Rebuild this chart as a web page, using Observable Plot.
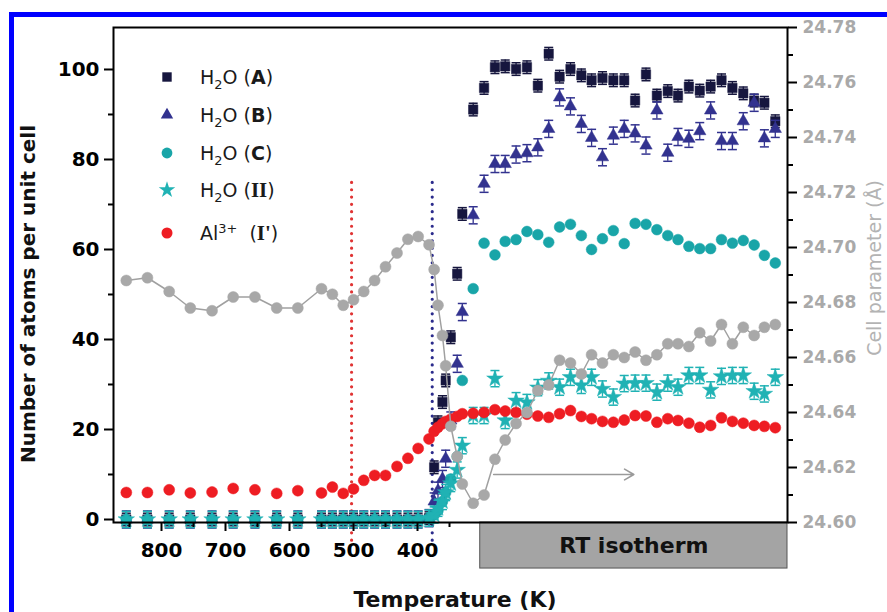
<!DOCTYPE html>
<html><head><meta charset="utf-8">
<script src="https://cdn.jsdelivr.net/npm/d3@7"></script>
<script src="https://cdn.jsdelivr.net/npm/@observablehq/plot@0.6"></script>
<style>
html,body{margin:0;padding:0;background:#fff;width:887px;height:612px;overflow:hidden;}
#wrap{position:relative;width:887px;height:612px;overflow:hidden;}
#border{position:absolute;left:9px;top:12px;width:920px;height:700px;border:5px solid #0000ff;box-sizing:border-box;}
#chart{position:absolute;left:0;top:0;}
.title{position:absolute;font-family:"DejaVu Sans",sans-serif;font-weight:bold;white-space:nowrap;}
.leg{position:absolute;left:156px;height:30px;display:flex;align-items:center;font-family:"DejaVu Sans",sans-serif;font-size:19px;color:#1a1a1a;white-space:nowrap;}
.leg svg{width:22px;height:22px;margin-right:22px;overflow:visible;}
.leg sub{font-size:0.68em;vertical-align:-0.35em;line-height:0;}
.leg sup{font-size:0.68em;vertical-align:0.55em;line-height:0;}
.leg .ser{font-family:"Liberation Serif",serif;font-weight:bold;font-size:21px;}
</style></head><body><div id="wrap"><div id="border"></div><div id="chart"></div></div>
<script>
// Position along the temperature axis (K). Points after the 350 K tick belong to the
// RT isotherm and continue along the axis in scan order.
const axisPos = [855, 822, 788, 755, 721, 688, 654, 620, 587, 550, 533, 516, 500, 484, 467, 450, 432, 415, 399, 382,
  374, 368, 361, 356, 348, 338,
  330, 313, 296, 279, 263, 246, 229, 212, 195, 178, 161, 144, 128, 111, 94, 77, 60, 43, 26, 9,
  -7, -24, -41, -58, -75, -92, -109, -126, -142, -159];

const h2oA = [0, 0, 0, 0, 0, 0, 0, 0, 0, 0, 0, 0, 0, 0, 0, 0, 0, 0, 0, 0.3,
  11.6, 21.6, 26.1, 30.9, 40.5, 54.6,
  67.9, 91.1, 95.9, 100.5, 100.7, 100.1, 100.5, 96.4, 103.5, 98.4, 100.1, 98.7, 97.6, 98.1, 97.6, 97.6, 93.1, 98.9, 94.2, 95.2,
  94.2, 96.2, 95.3, 96.2, 97.6, 95.9, 94.7, 93.1, 92.6, 88.5];

const h2oB = [0, 0, 0, 0, 0, 0, 0, 0, 0, 0, 0, 0, 0, 0, 0, 0, 0, 0, 0, 0.3,
  4.0, 6.4, 9.0, 13.5, 22.0, 34.6,
  46.1, 67.6, 74.6, 79.0, 79.0, 81.1, 81.4, 82.7, 86.8, 93.8, 91.8, 87.9, 84.8, 80.5, 85.3, 86.8, 85.8, 83.1, 90.9, 81.5,
  85.0, 84.6, 86.3, 90.9, 84.1, 84.1, 88.5, 92.6, 84.7, 86.8];

const h2oC = [0, 0, 0, 0, 0, 0, 0, 0, 0, 0, 0, 0, 0, 0, 0, 0, 0, 0, 0, 0.3,
  1.0, 2.0, 4.0, 6.0, 9.0, 14.0,
  30.9, 51.3, 61.4, 58.8, 61.8, 62.2, 64.0, 63.3, 61.6, 65.0, 65.6, 63.1, 60.0, 62.4, 64.2, 61.3, 65.8, 65.6, 64.4, 63.1,
  62.2, 60.7, 60.2, 60.2, 62.2, 61.4, 62.0, 61.0, 58.7, 57.0];

const h2oII = [0, 0, 0, 0, 0, 0, 0, 0, 0, 0, 0, 0, 0, 0, 0, 0, 0, 0, 0, 0.3,
  1.0, 2.5, 4.0, 6.0, 8.0, 11.0,
  16.4, 23.1, 23.1, 31.3, 22.0, 26.4, 26.0, 29.3, 30.8, 29.4, 31.6, 29.8, 31.6, 29.0, 27.2, 30.2, 30.3, 30.3, 28.3, 30.3,
  29.4, 32.0, 32.0, 28.8, 31.8, 32.0, 32.0, 28.5, 27.9, 31.6];

const alI = [6.0, 6.0, 6.6, 5.9, 6.1, 6.9, 6.6, 5.8, 6.4, 5.9, 7.2, 5.8, 6.8, 8.7, 9.8, 9.8, 11.8, 13.6, 15.8, 17.9,
  19.6, 20.5, 21.3, 21.8, 22.3, 22.9,
  23.5, 23.6, 23.8, 24.4, 24.1, 23.8, 23.4, 23.0, 22.7, 23.5, 24.2, 22.9, 22.4, 21.8, 21.6, 22.1, 23.1, 23.0, 21.6, 22.4,
  22.0, 21.4, 20.5, 20.9, 22.6, 21.8, 21.4, 20.9, 20.7, 20.4];

// cell parameter (Å), right axis
const cellParam = [24.688, 24.689, 24.684, 24.678, 24.677, 24.682, 24.682, 24.678, 24.678, 24.685, 24.683, 24.679, 24.681, 24.684, 24.688, 24.693, 24.698, 24.703, 24.704, 24.701,
  24.692, 24.679, 24.668, 24.657, 24.635, 24.624,
  24.614, 24.607, 24.610, 24.623, 24.630, 24.636, 24.640, 24.648, 24.650, 24.659, 24.658, 24.654, 24.661, 24.658, 24.661, 24.660, 24.662, 24.659, 24.661, 24.665,
  24.665, 24.664, 24.669, 24.666, 24.672, 24.665, 24.671, 24.668, 24.671, 24.672];

const errA = 1.4, errB = 1.9, errII = 1.8;

const tempTicks = [800, 700, 600, 500, 400];
const tempMinor = [850, 750, 650, 550, 450, 350];
const leftTicks = [0, 20, 40, 60, 80, 100];
const leftMinor = [10, 30, 50, 70, 90];
const rightTicks = [24.60, 24.62, 24.64, 24.66, 24.68, 24.70, 24.72, 24.74, 24.76, 24.78];
const rightMinor = [24.61, 24.63, 24.65, 24.67, 24.69, 24.71, 24.73, 24.75, 24.77];

const legendLabels = ['H<sub>2</sub>O (<b>A</b>)', 'H<sub>2</sub>O (<b>B</b>)', 'H<sub>2</sub>O (<b>C</b>)',
  'H<sub>2</sub>O (<span class="ser">II</span>)', 'Al<sup>3+</sup>&nbsp;&nbsp;(<span class="ser">I\'</span>)'];

// annotations (axis units)
const markLines = [{x: 503, top: 74.9, color: "#e03434"}, {x: 377, top: 75.8, color: "#2b2b8c"}];
const isotherm = {from: 302, label: "RT isotherm"};
const arrowNote = {x1: 281, x2: 62, y: 10};

// ---- scales
const xDomain = [875, -178.1];
const yDomain = [-0.667, 109.33];
const cellDomain = [24.60, 24.78];
const toLeft = v => yDomain[0] + (v - cellDomain[0]) / (cellDomain[1] - cellDomain[0]) * (yDomain[1] - yDomain[0]);
const fromLeft = y => cellDomain[0] + (y - yDomain[0]) / (yDomain[1] - yDomain[0]) * (cellDomain[1] - cellDomain[0]);

const colA = "#16163e", colB = "#32328f", colC = "#19a5a8", colII = "#20b2b4", colAl = "#ee1d23", colCell = "#a8a8a8";

const rows = axisPos.map((x, i) => ({x, a: h2oA[i], b: h2oB[i], c: h2oC[i], ii: h2oII[i], al: alI[i], cell: toLeft(cellParam[i])}));

const cap = {draw(ctx, size) { const w = Math.sqrt(size / Math.PI); ctx.moveTo(-w, 0); ctx.lineTo(w, 0); }};

function errMarks(key, err, color, capR) {
  return [
    Plot.ruleX(rows, {x: "x", y1: d => d[key] - err, y2: d => d[key] + err, stroke: color, strokeWidth: 1.3}),
    Plot.dot(rows, {x: "x", y: d => d[key] + err, symbol: cap, r: capR, fill: "none", stroke: color, strokeWidth: 1.5}),
    Plot.dot(rows, {x: "x", y: d => d[key] - err, symbol: cap, r: capR, fill: "none", stroke: color, strokeWidth: 1.5})
  ];
}

const bottomY = yDomain[0];
const boxBottom = -10.9;

const chart = Plot.plot({
  width: 887, height: 612,
  marginLeft: 113, marginRight: 100, marginTop: 27, marginBottom: 90,
  style: {fontFamily: "DejaVu Sans, sans-serif", background: "transparent", overflow: "visible"},
  x: {type: "linear", domain: xDomain},
  y: {type: "linear", domain: yDomain},
  marks: [
    Plot.rect([isotherm], {x1: d => d.from, x2: xDomain[1], y1: bottomY, y2: boxBottom, fill: "#a4a4a4", stroke: "#555", strokeWidth: 1}),
    Plot.text([isotherm], {x: d => (d.from + xDomain[1]) / 2, y: (bottomY + boxBottom) / 2, text: "label", fontSize: 22, fontWeight: "bold", fill: "#111"}),
    Plot.ruleX(markLines, {x: "x", y1: -4.7, y2: "top", stroke: "color", strokeWidth: 3.2, strokeDasharray: "0 7.3", strokeLinecap: "round"}),
    Plot.arrow([arrowNote], {x1: "x1", x2: "x2", y1: "y", y2: "y", stroke: "#9a9a9a", strokeWidth: 1.6, headLength: 10}),
    ...errMarks("a", errA, colA, 4.5),
    Plot.dot(rows, {x: "x", y: "a", symbol: "square", r: 5.3, fill: colA, stroke: colA, strokeWidth: 0.5}),
    ...errMarks("b", errB, colB, 4.5),
    Plot.dot(rows, {x: "x", y: "b", symbol: "triangle", r: 4.6, fill: colB, stroke: colB, strokeWidth: 0.5}),
    Plot.dot(rows, {x: "x", y: "c", symbol: "circle", r: 5.4, fill: colC, stroke: colC, strokeWidth: 0.5}),
    ...errMarks("ii", errII, colII, 4.5),
    Plot.dot(rows, {x: "x", y: "ii", symbol: "star", r: 5.2, fill: colII, stroke: colII, strokeWidth: 0.5}),
    Plot.dot(rows, {x: "x", y: "al", symbol: "circle", r: 5.5, fill: colAl, stroke: colAl, strokeWidth: 0.5}),
    Plot.line(rows, {x: "x", y: "cell", stroke: "#a0a0a0", strokeWidth: 1.5}),
    Plot.dot(rows, {x: "x", y: "cell", symbol: "circle", r: 5.5, fill: colCell, stroke: colCell, strokeWidth: 0.5}),
    Plot.axisX(tempTicks, {anchor: "bottom", tickSize: 9, strokeWidth: 2, tickPadding: 11, fontSize: 20, fontWeight: "bold", fill: "black", stroke: "black", label: null, tickFormat: d => String(d)}),
    Plot.axisX(tempMinor, {anchor: "bottom", tickSize: 5, strokeWidth: 2, stroke: "black", label: null, tickFormat: () => ""}),
    Plot.axisY(leftTicks, {anchor: "left", tickSize: 9, strokeWidth: 2, tickPadding: 5, fontSize: 20, fontWeight: "bold", fill: "black", stroke: "black", label: null, tickFormat: d => String(d)}),
    Plot.axisY(leftMinor, {anchor: "left", tickSize: 5, strokeWidth: 2, stroke: "black", label: null, tickFormat: () => ""}),
    Plot.axisY(rightTicks.map(toLeft), {anchor: "right", tickSize: 9, strokeWidth: 2, tickPadding: 6, fontSize: 17, fontWeight: "bold", fill: "#a9a9a9", stroke: "black", label: null, tickFormat: d => fromLeft(d).toFixed(2)}),
    Plot.axisY(rightMinor.map(toLeft), {anchor: "right", tickSize: 5, strokeWidth: 2, stroke: "black", label: null, tickFormat: () => ""}),
    Plot.frame({stroke: "black", strokeWidth: 2})
  ]
});
document.getElementById("chart").appendChild(chart);

// axis titles
const wrap = document.getElementById("wrap");
function addTitle(text, css) {
  const d = document.createElement("div");
  d.className = "title";
  d.textContent = text;
  Object.assign(d.style, css);
  wrap.appendChild(d);
}
addTitle("Temperature (K)", {left: "455px", top: "599px", fontSize: "22px", color: "#111", transform: "translate(-50%,-50%)"});
addTitle("Number of atoms per unit cell", {left: "28px", top: "294px", fontSize: "20px", color: "#111", transform: "translate(-50%,-50%) rotate(-90deg)"});
addTitle("Cell parameter (Å)", {left: "874px", top: "268px", fontSize: "19px", fontWeight: "normal", color: "#b3b3b3", transform: "translate(-50%,-50%) rotate(-90deg)"});

// legend
const legSymbols = [[d3.symbolSquare, 5.3, colA], [d3.symbolTriangle, 4.6, colB], [d3.symbolCircle, 5.4, colC], [d3.symbolStar, 5.2, colII], [d3.symbolCircle, 5.5, colAl]];
const legY = [77, 115, 153, 190, 233];
legendLabels.forEach((lab, i) => {
  const [sym, r, col] = legSymbols[i];
  const path = d3.symbol(sym, Math.PI * r * r)();
  const row = document.createElement("div");
  row.className = "leg";
  row.style.top = (legY[i] - 15) + "px";
  row.innerHTML = `<svg viewBox="-11 -11 22 22"><path d="${path}" fill="${col}"/></svg><span>${lab}</span>`;
  wrap.appendChild(row);
});
</script></body></html>
